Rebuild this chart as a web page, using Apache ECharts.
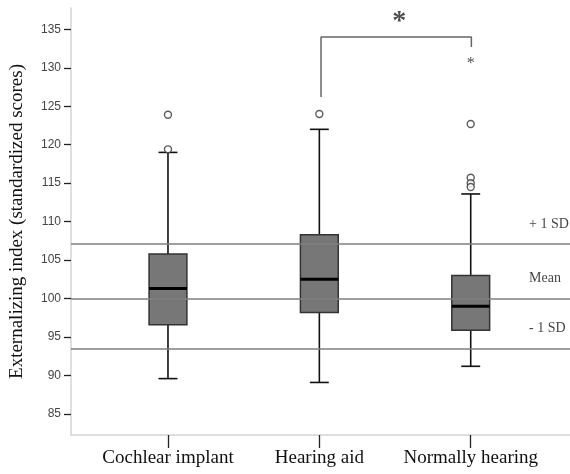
<!DOCTYPE html>
<html>
<head>
<meta charset="utf-8">
<title>Externalizing index</title>
<script src="https://cdn.jsdelivr.net/npm/echarts@6/dist/echarts.min.js"></script>
<style>
  html, body { margin: 0; padding: 0; background: #fff; }
  #chart { width: 570px; height: 474px; }
</style>
</head>
<body>
<div id="chart"></div>
<script>
// 组别
var categories = ['Cochlear implant', 'Hearing aid', 'Normally hearing'];
// 箱线数据 [min, Q1, median, Q3, max]
var boxValues = [
    [89.6, 96.6, 101.3, 105.8, 119.0],
    [89.1, 98.2, 102.5, 108.3, 122.0],
    [91.2, 95.9, 99.0, 103.0, 113.6]
];
// 离群值 (圆圈) [组序号, 值]
var outliers = [[0, 123.9], [0, 119.4], [1, 124.0], [2, 122.7], [2, 115.7], [2, 115.0], [2, 114.5]];
// 极端值 (星号)
var extremes = [[2, 130.9]];
// 参考线: +1 SD, Mean, -1 SD
var sdValues = [107.1, 100.0, 93.5];
var sdLabels = ['+ 1 SD', 'Mean', '- 1 SD'];
// y轴刻度
var yTicks = [85, 90, 95, 100, 105, 110, 115, 120, 125, 130, 135];
// 显著性括号 (x 为组位置 1..3)
var bracket = [[2, 126.2], [2, 134.0], [3, 134.0], [3, 132.7]];
var sigMark = [[2.52, 136.0]];

var yMin = 82.27, yMax = 137.77;
var labelX = 3.384;

var chart = echarts.init(document.getElementById('chart'));

// 箱线图自绘: 箱体、须线、半宽端线、粗中位线
function renderBox(params, api) {
    var idx = api.value(0);
    var lo = api.coord([idx, api.value(1)]);
    var q1 = api.coord([idx, api.value(2)]);
    var md = api.coord([idx, api.value(3)]);
    var q3 = api.coord([idx, api.value(4)]);
    var hi = api.coord([idx, api.value(5)]);
    var bw = api.size([1, 0])[0] * 0.25;
    var cw = bw / 2;
    var x = lo[0];
    var whisker = { stroke: '#111', lineWidth: 1.6 };
    return {
        type: 'group',
        children: [
            { type: 'line', shape: { x1: x, y1: hi[1], x2: x, y2: q3[1] }, style: whisker },
            { type: 'line', shape: { x1: x, y1: q1[1], x2: x, y2: lo[1] }, style: whisker },
            { type: 'line', shape: { x1: x - cw / 2, y1: hi[1], x2: x + cw / 2, y2: hi[1] }, style: whisker },
            { type: 'line', shape: { x1: x - cw / 2, y1: lo[1], x2: x + cw / 2, y2: lo[1] }, style: whisker },
            {
                type: 'rect',
                shape: { x: x - bw / 2, y: q3[1], width: bw, height: q1[1] - q3[1] },
                style: { fill: '#777777', stroke: '#333', lineWidth: 1.5 }
            },
            {
                type: 'line',
                shape: { x1: x - bw / 2, y1: md[1], x2: x + bw / 2, y2: md[1] },
                style: { stroke: '#000', lineWidth: 3 }
            }
        ]
    };
}

var option = {
    animation: false,
    grid: [
        // 全宽网格: 坐标轴、参考线、括号
        { left: 67.7, right: 0, top: 8, bottom: 39 },
        // 箱线图网格
        { left: 92.3, right: 23.6, top: 8, bottom: 39 }
    ],
    xAxis: [
        {
            type: 'value', gridIndex: 0, min: 0.337, max: 3.656,
            axisLine: { show: true, onZero: false, lineStyle: { color: '#d4d4d4', width: 1.5 } },
            axisTick: { show: false }, axisLabel: { show: false }, splitLine: { show: false }
        },
        {
            type: 'category', gridIndex: 1, data: categories, boundaryGap: true,
            axisLine: { show: false },
            axisTick: { show: true, alignWithLabel: true, interval: 0, length: 13, lineStyle: { color: '#222', width: 1.3 } },
            axisLabel: { interval: 0, margin: 14, fontFamily: 'Liberation Serif', fontSize: 19, color: '#111' },
            splitLine: { show: false }
        }
    ],
    yAxis: [
        {
            type: 'value', gridIndex: 0, min: yMin, max: yMax,
            name: 'Externalizing index (standardized scores)',
            nameLocation: 'middle', nameGap: 44,
            nameTextStyle: { fontFamily: 'Liberation Serif', fontSize: 19, color: '#111' },
            axisLine: { show: true, onZero: false, lineStyle: { color: '#d4d4d4', width: 1.5 } },
            axisTick: { show: true, length: 7, customValues: yTicks, lineStyle: { color: '#222', width: 1.3 } },
            axisLabel: { margin: 10, customValues: yTicks, fontFamily: 'Liberation Sans', fontSize: 12, color: '#444' },
            splitLine: { show: false }
        },
        {
            type: 'value', gridIndex: 1, min: yMin, max: yMax, show: false, splitLine: { show: false }
        }
    ],
    series: [
        // 参考线
        {
            type: 'line', xAxisIndex: 0, yAxisIndex: 0, data: [], silent: true,
            markLine: {
                symbol: 'none', silent: true, label: { show: false },
                lineStyle: { color: '#7f7f7f', width: 1.5, type: 'solid' },
                data: sdValues.map(function (v) { return { yAxis: v }; })
            }
        },
        // 参考线标签
        {
            type: 'scatter', xAxisIndex: 0, yAxisIndex: 0, symbolSize: 0, silent: true,
            data: sdValues.map(function (v, i) { return { value: [labelX, v], name: sdLabels[i] }; }),
            label: {
                show: true, position: 'right', distance: 0, offset: [0, -20],
                formatter: function (p) { return p.name; },
                fontFamily: 'Liberation Serif', fontSize: 14, color: '#111'
            }
        },
        // 显著性括号
        {
            type: 'line', xAxisIndex: 0, yAxisIndex: 0, data: bracket, symbol: 'none', silent: true,
            lineStyle: { color: '#666', width: 1.5 }
        },
        {
            type: 'scatter', xAxisIndex: 0, yAxisIndex: 0, data: sigMark, symbolSize: 0, silent: true,
            label: {
                show: true, position: 'inside', formatter: '*',
                fontFamily: 'Liberation Serif', fontSize: 28, fontWeight: 'bold', color: '#222'
            }
        },
        // 箱线图
        {
            type: 'custom', xAxisIndex: 1, yAxisIndex: 1, silent: true,
            data: boxValues.map(function (b, i) { return [i].concat(b); }),
            renderItem: renderBox
        },
        // 离群值
        {
            type: 'scatter', xAxisIndex: 1, yAxisIndex: 1, data: outliers, symbol: 'circle', symbolSize: 7, silent: true,
            itemStyle: { color: '#fff', borderColor: '#333', borderWidth: 1.4 }
        },
        // 极端值
        {
            type: 'scatter', xAxisIndex: 1, yAxisIndex: 1, data: extremes, symbolSize: 0, silent: true,
            label: {
                show: true, position: 'inside', formatter: '*', offset: [0, 3],
                fontFamily: 'Liberation Serif', fontSize: 16, color: '#222'
            }
        }
    ]
};

chart.setOption(option);
</script>
</body>
</html>
